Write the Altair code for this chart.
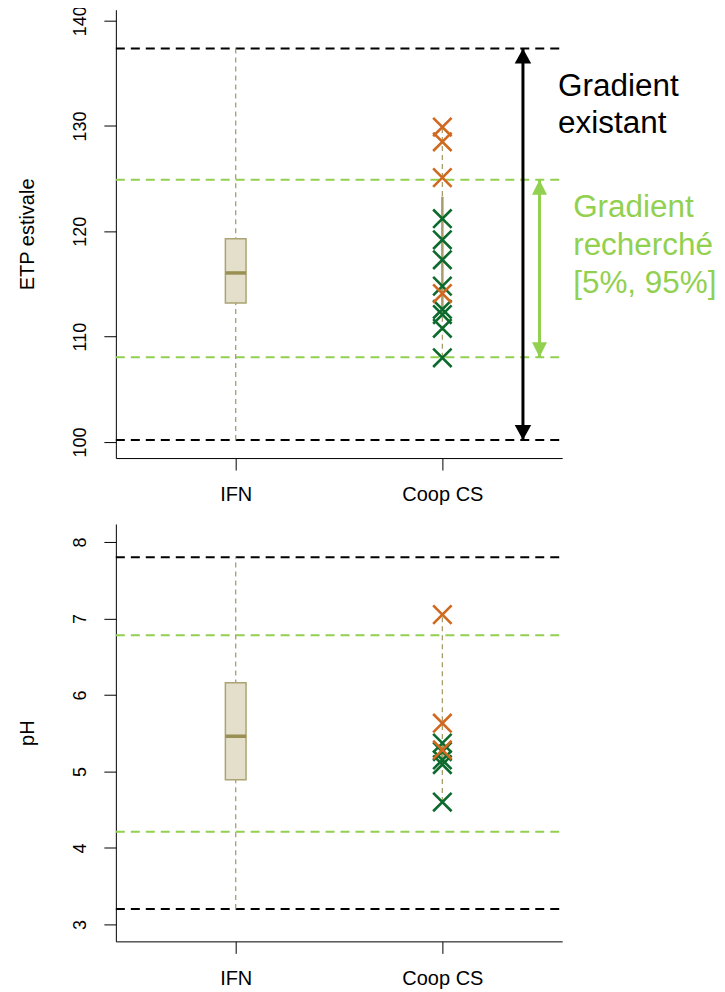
import altair as alt
import pandas as pd

FONT = "Liberation Sans"

# ---------------- data ----------------
categories = ["IFN", "Coop CS"]
cat_x = [1, 2]
x_domain = [0.42, 2.58]

# summary stats: lower whisker, q1, median, q3, upper whisker
etp_ifn = [100.2, 113.2, 116.05, 119.3, 137.35]
etp_coop = [108.0, 112.7, 117.3, 123.3, 129.9]
etp_existant = [100.2, 137.35]
etp_recherche = [108.05, 124.9]
etp_orange = [129.9, 128.5, 125.1, 114.1]
etp_green = [121.2, 119.2, 117.3, 114.8, 112.6, 112.1, 110.8, 108.0]
etp_ticks = [100, 110, 120, 130, 140]
etp_domain = [98.48, 141.04]

ph_ifn = [3.2, 4.89, 5.46, 6.16, 7.8]
ph_coop = [4.6, 5.12, 5.28, 5.37, 7.05]
ph_existant = [3.2, 7.8]
ph_recherche = [4.21, 6.78]
ph_orange = [7.05, 5.63, 5.28]
ph_green = [5.37, 5.26, 5.15, 5.09, 4.6]
ph_ticks = [3, 4, 5, 6, 7, 8]
ph_domain = [2.778, 8.235]

# annotations (top panel)
arrow_black_x = 2.39
arrow_green_x = 2.47
label_black = ["Gradient", "existant"]
label_black_y = [132.8, 129.35]
label_black_x = 2.56
label_green = ["Gradient", "recherché", "[5%, 95%]"]
label_green_y = [121.4, 117.8, 114.15]
label_green_x = 2.633

# ---------------- styles ----------------
BOX_FILL = "#E3DFCB"
BOX_STROKE = "#ABA374"
MEDIAN = "#9A9053"
WHISKER = "#A89E6C"
GREEN_LINE = "#92D050"
ORANGE = "#D0691F"
DKGREEN = "#0B6A2C"
XSHAPE = "M-1,-1L1,1M-1,1L1,-1"
BOX_HALF = 0.05

label_expr = f"datum.value == 1 ? '{categories[0]}' : '{categories[1]}'"


def panel(box_ifn, box_coop, existant, recherche, orange, green, ticks, domain,
          title, height, annot):
    xs = alt.Scale(domain=x_domain, nice=False, zero=False)
    ys = alt.Scale(domain=domain, nice=False, zero=False)
    xaxis = alt.Axis(values=cat_x, labelExpr=label_expr, title=None, grid=False,
                     tickSize=12, labelPadding=15, labelFontSize=20)
    yaxis = alt.Axis(values=ticks, title=title, grid=False, tickSize=12,
                     labelAngle=270, labelAlign="center", labelBaseline="bottom",
                     labelPadding=14, labelFontSize=18, titleFontSize=20,
                     titleFontWeight="normal", titlePadding=34)

    def X(f):
        return alt.X(f, type="quantitative", scale=xs, axis=xaxis)

    def Y(f):
        return alt.Y(f, type="quantitative", scale=ys, axis=yaxis)

    layers = []
    # dashed reference lines
    ref = pd.DataFrame({
        "y": existant + recherche,
        "kind": ["existant"] * len(existant) + ["recherche"] * len(recherche),
        "x": [x_domain[0]] * 4, "x2": [x_domain[1]] * 4,
    })
    layers.append(alt.Chart(ref).mark_rule(strokeDash=[9, 6], strokeWidth=2).encode(
        x=X("x"), x2="x2", y=Y("y"),
        color=alt.Color("kind:N", scale=alt.Scale(domain=["existant", "recherche"],
                                                  range=["#000000", GREEN_LINE]),
                        legend=None)))
    # whiskers
    wh = pd.DataFrame({"x": cat_x, "lo": [box_ifn[0], box_coop[0]],
                       "hi": [box_ifn[4], box_coop[4]]})
    layers.append(alt.Chart(wh).mark_rule(strokeDash=[5, 4], strokeWidth=1.3,
                                          color=WHISKER).encode(
        x=X("x"), y=Y("lo"), y2="hi"))
    # narrow Coop box
    cb = pd.DataFrame({"x": [cat_x[1]], "q1": [box_coop[1]], "q3": [box_coop[3]]})
    layers.append(alt.Chart(cb).mark_rule(strokeWidth=2.5, color=WHISKER).encode(
        x=X("x"), y=Y("q1"), y2="q3"))
    # IFN box
    bx = pd.DataFrame({"x": [cat_x[0] - BOX_HALF], "x2": [cat_x[0] + BOX_HALF],
                       "q1": [box_ifn[1]], "q3": [box_ifn[3]], "med": [box_ifn[2]]})
    layers.append(alt.Chart(bx).mark_rect(fill=BOX_FILL, stroke=BOX_STROKE,
                                          strokeWidth=1.5).encode(
        x=X("x"), x2="x2", y=Y("q1"), y2="q3"))
    layers.append(alt.Chart(bx).mark_rule(strokeWidth=3.5, color=MEDIAN).encode(
        x=X("x"), x2="x2", y=Y("med")))
    # crosses
    g = pd.DataFrame({"x": [cat_x[1]] * len(green), "v": green})
    o = pd.DataFrame({"x": [cat_x[1]] * len(orange), "v": orange})
    layers.append(alt.Chart(g).mark_point(shape=XSHAPE, filled=False, size=340,
                                          strokeWidth=2.6, color=DKGREEN,
                                          opacity=1).encode(x=X("x"), y=Y("v")))
    layers.append(alt.Chart(o).mark_point(shape=XSHAPE, filled=False, size=340,
                                          strokeWidth=2.6, color=ORANGE,
                                          opacity=1).encode(x=X("x"), y=Y("v")))
    if annot:
        ar = pd.DataFrame({"x": [arrow_black_x, arrow_green_x],
                           "lo": [existant[0], recherche[0]],
                           "hi": [existant[1], recherche[1]],
                           "kind": ["existant", "recherche"]})
        cscale = alt.Scale(domain=["existant", "recherche"],
                           range=["#000000", GREEN_LINE])
        layers.append(alt.Chart(ar).mark_rule(strokeWidth=3).encode(
            x=X("x"), y=Y("lo"), y2="hi",
            color=alt.Color("kind:N", scale=cscale, legend=None)))
        # arrow heads
        layers.append(alt.Chart(ar.iloc[[0]]).mark_point(
            shape="M0,0L-0.55,1L0.55,1Z", filled=True, size=900, opacity=1,
            color="#000000").encode(x=X("x"), y=Y("hi")))
        layers.append(alt.Chart(ar.iloc[[0]]).mark_point(
            shape="M0,0L-0.55,-1L0.55,-1Z", filled=True, size=900, opacity=1,
            color="#000000").encode(x=X("x"), y=Y("lo")))
        layers.append(alt.Chart(ar.iloc[[1]]).mark_point(
            shape="M0,0L-0.5,1L0.5,1Z", filled=True, size=900, opacity=1,
            color=GREEN_LINE).encode(x=X("x"), y=Y("hi")))
        layers.append(alt.Chart(ar.iloc[[1]]).mark_point(
            shape="M0,0L-0.5,-1L0.5,-1Z", filled=True, size=900, opacity=1,
            color=GREEN_LINE).encode(x=X("x"), y=Y("lo")))
        tb = pd.DataFrame({"x": [label_black_x] * len(label_black),
                           "y": label_black_y, "t": label_black})
        tg = pd.DataFrame({"x": [label_green_x] * len(label_green),
                           "y": label_green_y, "t": label_green})
        layers.append(alt.Chart(tb).mark_text(align="left", baseline="alphabetic",
                                              fontSize=31.5, font=FONT,
                                              color="#000000").encode(
            x=X("x"), y=Y("y"), text="t:N"))
        layers.append(alt.Chart(tg).mark_text(align="left", baseline="alphabetic",
                                              fontSize=31.5, font=FONT,
                                              color=GREEN_LINE).encode(
            x=X("x"), y=Y("y"), text="t:N"))
    return alt.layer(*layers).properties(width=447, height=height)


top = panel(etp_ifn, etp_coop, etp_existant, etp_recherche, etp_orange, etp_green,
            etp_ticks, etp_domain, "ETP estivale", 449, True)
bottom = panel(ph_ifn, ph_coop, ph_existant, ph_recherche, ph_orange, ph_green,
               ph_ticks, ph_domain, "pH", 418, False)

chart = alt.vconcat(top, bottom, spacing=19).properties(
    padding={"left": 10, "top": -4, "right": 0, "bottom": 0}
).configure_view(stroke=None).configure_axis(
    domainColor="black", tickColor="black", labelColor="black",
    titleColor="black", labelFont=FONT, titleFont=FONT,
    domainWidth=1, tickWidth=1
)

chart.save("out.html", embed_options={"renderer": "svg", "actions": False})
